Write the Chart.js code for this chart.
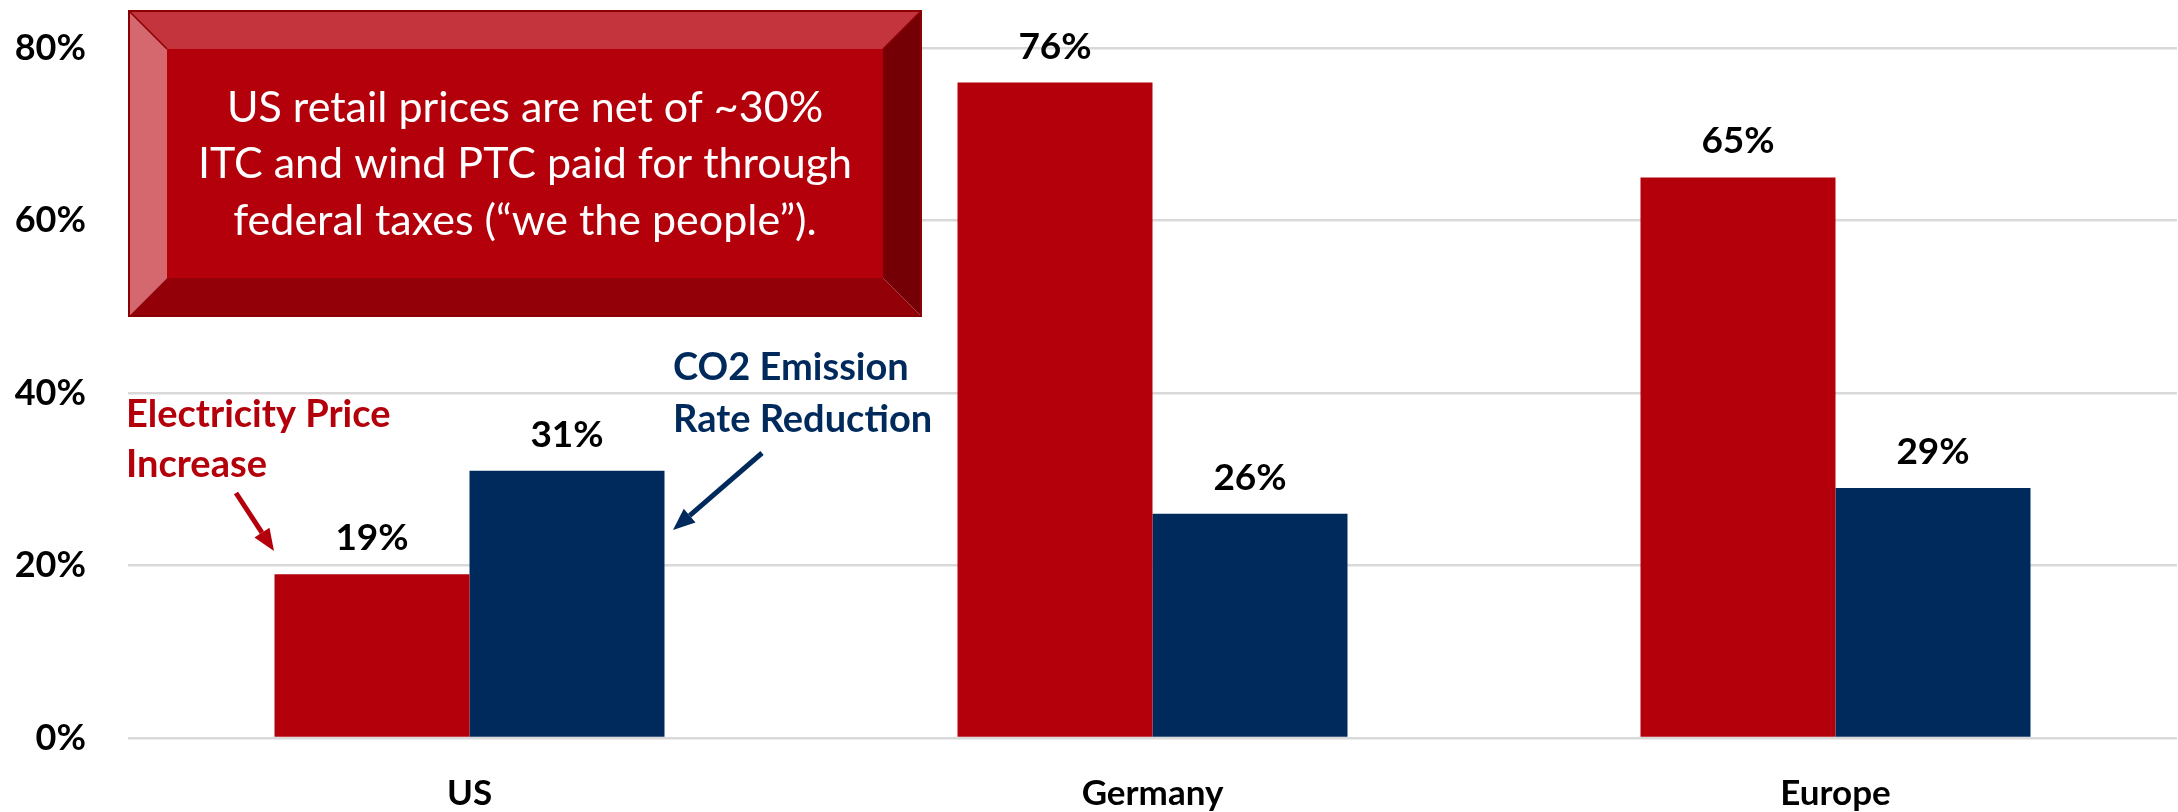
<!DOCTYPE html>
<html>
<head>
<meta charset="utf-8">
<script src="https://cdn.jsdelivr.net/npm/chart.js@4"></script>
<style>
  html, body { margin: 0; padding: 0; background: #ffffff; }
  #wrap { width: 2178px; height: 812px; }
</style>
</head>
<body>
<div id="wrap"><canvas id="c" width="2178" height="812"></canvas></div>
<script>
// ---- data ----
const categories = ["US", "Germany", "Europe"];
const priceIncrease = [19, 76, 65];       // Electricity Price Increase (%)
const co2Reduction = [31, 26, 29];        // CO2 Emission Rate Reduction (%)
const yTicks = [0, 20, 40, 60, 80];
const seriesNames = ["Electricity Price Increase", "CO2 Emission Rate Reduction"];
const noteLines = ["US retail prices are net of ~30%", "ITC and wind PTC paid for through", "federal taxes (\u201cwe the people\u201d)."];
const redNote = ["Electricity Price", "Increase"];
const blueNote = ["CO2 Emission", "Rate Reduction"];

const RED = "#B3000A";
const NAVY = "#002A5C";
const FONT = "Lato, 'Open Sans', sans-serif";

function arrow(ctx, x1, y1, x2, y2, color, lw, headLen, headW) {
  const ang = Math.atan2(y2 - y1, x2 - x1);
  const bx = x2 - headLen * Math.cos(ang), by = y2 - headLen * Math.sin(ang);
  ctx.save();
  ctx.strokeStyle = color; ctx.fillStyle = color; ctx.lineWidth = lw; ctx.lineCap = "butt";
  ctx.beginPath(); ctx.moveTo(x1, y1); ctx.lineTo(bx, by); ctx.stroke();
  ctx.beginPath();
  ctx.moveTo(x2, y2);
  ctx.lineTo(bx + headW / 2 * Math.sin(ang), by - headW / 2 * Math.cos(ang));
  ctx.lineTo(bx - headW / 2 * Math.sin(ang), by + headW / 2 * Math.cos(ang));
  ctx.closePath(); ctx.fill();
  ctx.restore();
}

const labelPlugin = {
  id: "valueLabels",
  afterDatasetsDraw(chart) {
    const ctx = chart.ctx;
    ctx.save();
    ctx.font = "bold 37px " + FONT;
    ctx.fillStyle = "#000";
    ctx.textAlign = "center";
    ctx.textBaseline = "alphabetic";
    chart.data.datasets.forEach((ds, i) => {
      chart.getDatasetMeta(i).data.forEach((el, j) => {
        ctx.fillText(ds.data[j] + "%", el.x, el.y - 24);
      });
    });
    ctx.restore();
  }
};

const notePlugin = {
  id: "notes",
  afterDraw(chart) {
    const ctx = chart.ctx;
    ctx.save();
    // bevelled box
    const L = 129, T = 11, R = 921, B = 316, b = 38;
    const poly = (pts, col) => { ctx.beginPath(); ctx.moveTo(pts[0][0], pts[0][1]); for (let k = 1; k < pts.length; k++) ctx.lineTo(pts[k][0], pts[k][1]); ctx.closePath(); ctx.fillStyle = col; ctx.fill(); };
    poly([[L, T], [R, T], [R - b, T + b], [L + b, T + b]], "#C4343C");
    poly([[L, T], [L + b, T + b], [L + b, B - b], [L, B]], "#D4686E");
    poly([[R, T], [R, B], [R - b, B - b], [R - b, T + b]], "#740006");
    poly([[L, B], [L + b, B - b], [R - b, B - b], [R, B]], "#930008");
    ctx.fillStyle = "#B3000A";
    ctx.fillRect(L + b, T + b, R - L - 2 * b, B - T - 2 * b);
    ctx.strokeStyle = "#8B0005"; ctx.lineWidth = 2;
    ctx.strokeRect(L, T, R - L, B - T);
    ctx.beginPath();
    ctx.moveTo(L, T); ctx.lineTo(L + b, T + b);
    ctx.moveTo(R, T); ctx.lineTo(R - b, T + b);
    ctx.lineWidth = 1.5; ctx.stroke();

    ctx.fillStyle = "#ffffff";
    ctx.font = "43px " + FONT;
    ctx.textAlign = "center";
    ctx.textBaseline = "alphabetic";
    const cx = (L + R) / 2;
    const bases = [122, 178, 235];
    noteLines.forEach((t, k) => ctx.fillText(t, cx, bases[k]));

    // side notes
    ctx.font = "bold 38px " + FONT;
    ctx.textAlign = "left";
    ctx.fillStyle = RED;
    ctx.fillText(redNote[0], 126, 427);
    ctx.fillText(redNote[1], 126, 477);
    ctx.fillStyle = NAVY;
    ctx.fillText(blueNote[0], 673, 380);
    ctx.fillText(blueNote[1], 673, 432);

    arrow(ctx, 236, 493, 274, 551, RED, 5, 22, 18);
    arrow(ctx, 762, 453, 673, 530, NAVY, 5, 22, 18);
    ctx.restore();
  }
};

new Chart(document.getElementById("c"), {
  type: "bar",
  data: {
    labels: categories,
    datasets: [
      { label: seriesNames[0], data: priceIncrease, backgroundColor: RED, borderWidth: 0 },
      { label: seriesNames[1], data: co2Reduction, backgroundColor: NAVY, borderWidth: 0 }
    ]
  },
  options: {
    responsive: false,
    devicePixelRatio: 1,
    animation: false,
    layout: { padding: { top: 48, right: 1, left: 0, bottom: 0 } },
    plugins: { legend: { display: false }, tooltip: { enabled: false }, title: { display: false } },
    datasets: { bar: { categoryPercentage: 0.571, barPercentage: 1.0 } },
    scales: {
      x: {
        grid: { display: false, drawTicks: false },
        border: { display: false },
        ticks: { color: "#000", font: { family: FONT, weight: "bold", size: 35 }, padding: 35, maxRotation: 0 },
        afterFit(scale) { scale.height = 74; scale.paddingLeft = 0; scale.paddingRight = 0; }
      },
      y: {
        min: 0, max: 80,
        afterBuildTicks(scale) { scale.ticks = yTicks.map(v => ({ value: v })); },
        grid: { color: "#D9D9D9", lineWidth: 2.5, drawTicks: false },
        border: { display: false },
        ticks: { color: "#000", font: { family: FONT, weight: "bold", size: 36 }, padding: 42, callback: v => v + "%" },
        afterFit(scale) { scale.width = 128; scale.paddingTop = 0; scale.paddingBottom = 0; }
      }
    }
  },
  plugins: [labelPlugin, notePlugin]
});
</script>
</body>
</html>
